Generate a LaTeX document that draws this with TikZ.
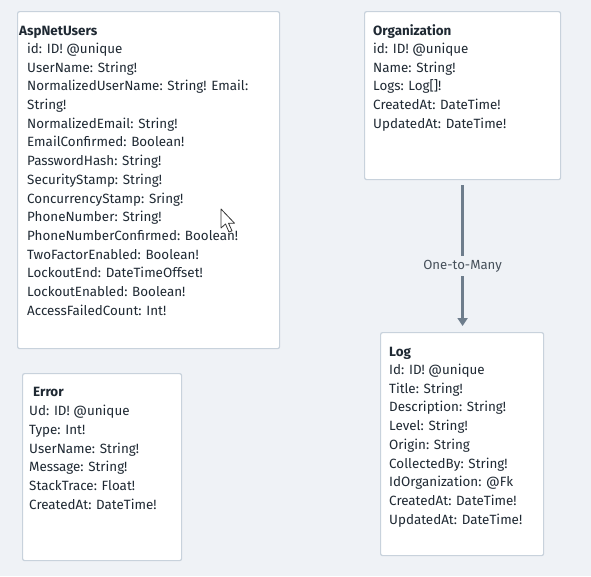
\documentclass[tikz,border=0pt]{standalone}
\usepackage{fontspec}
\setmainfont{Fira Sans}
\usetikzlibrary{arrows.meta}
\definecolor{bg}{HTML}{EFF2F6}
\definecolor{boxline}{HTML}{C8D2DC}
\definecolor{txt}{HTML}{1F2933}
\definecolor{arr}{HTML}{6E7D8C}
\definecolor{lbl}{HTML}{46505A}
\begin{document}
\begin{tikzpicture}[x=1pt,y=-1pt,
  entity/.style={draw=boxline,line width=1.2pt,fill=white,rounded corners=2pt,inner sep=0pt,anchor=north west},
  field/.style={anchor=base west,inner sep=0pt,text=txt,font=\fontsize{13.4}{15}\selectfont},
  ttl/.style={field,font=\fontsize{13.4}{15}\selectfont\bfseries},
  rel/.style={draw=arr,line width=3pt,-{Triangle[width=10pt,length=8pt]}}]
\fill[bg] (0,0) rectangle (591,576);
\useasboundingbox (0,0) rectangle (591,576);
% boxes
\node[entity,minimum width=262,minimum height=337] (users) at (17,11) {};
\node[entity,minimum width=196,minimum height=168] (org) at (364,11) {};
\node[entity,minimum width=163,minimum height=223] (log) at (380,332) {};
\node[entity,minimum width=159,minimum height=187] (err) at (22,373) {};
% AspNetUsers
\node[ttl] (ut) at (19,35.4) {AspNetUsers};
\foreach [count=\i] \t in {id: ID! @unique, UserName: String!, NormalizedUserName: String! Email:, String!, NormalizedEmail: String!, EmailConfirmed: Boolean!, PasswordHash: String!, SecurityStamp: String!, ConcurrencyStamp: Sring!, PhoneNumber: String!, PhoneNumberConfirmed: Boolean!, TwoFactorEnabled: Boolean!, LockoutEnd: DateTimeOffset!, LockoutEnabled: Boolean!, AccessFailedCount: Int!}{
  \pgfmathsetmacro{\yy}{48+(\i-1)*18.71+5.4}
  \node[field] (u\i) at (27,\yy) {\t};
}
% Organization
\node[ttl] (ot) at (373,35.4) {Organization};
\foreach [count=\i] \t in {id: ID! @unique, Name: String!, {Logs: Log[]!}, CreatedAt: DateTime!, UpdatedAt: DateTime!}{
  \pgfmathsetmacro{\yy}{48+(\i-1)*18.71+5.4}
  \node[field] (o\i) at (373,\yy) {\t};
}
% Log
\node[ttl] (lt) at (389,356.4) {Log};
\foreach [count=\i] \t in {Id: ID! @unique, Title: String!, Description: String!, Level: String!, Origin: String, CollectedBy: String!, IdOrganization: @Fk, CreatedAt: DateTime!, UpdatedAt: DateTime!}{
  \pgfmathsetmacro{\yy}{369+(\i-1)*18.75+5.4}
  \node[field] (l\i) at (389,\yy) {\t};
}
% Error
\node[ttl] (et) at (33,396.4) {Error};
\foreach [count=\i] \t in {Ud: ID! @unique, Type: Int!, UserName: String!, Message: String!, StackTrace: Float!, CreatedAt: DateTime!}{
  \pgfmathsetmacro{\yy}{410+(\i-1)*18.8+5.4}
  \node[field] (e\i) at (29,\yy) {\t};
}
% relation
\draw[rel,shorten <=5pt,shorten >=6pt] (org.south) -- (log.north -| org.south)
  node[pos=0.565,fill=bg,inner xsep=0pt,inner ysep=4pt,text=lbl,font=\fontsize{13.2}{14}\selectfont] (rl) {One-to-Many};
% mouse cursor
\coordinate (cur) at (221,209);
\draw[fill=white,draw=black!80,line width=0.8pt,line join=round,shift={(cur)}]
  (0,0) -- (0,19) -- (4.5,15) -- (8,23) -- (11,21.8) -- (7.5,14.2) -- (13.5,14.2) -- cycle;
\end{tikzpicture}
\end{document}
